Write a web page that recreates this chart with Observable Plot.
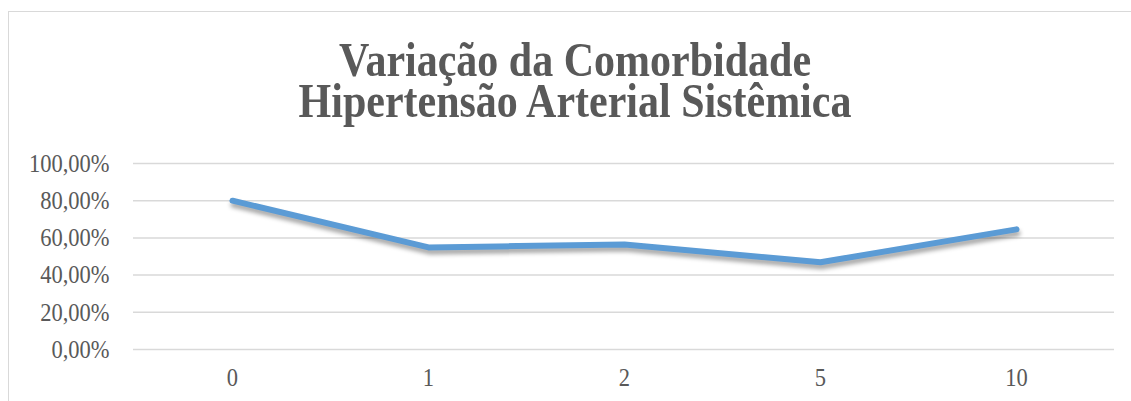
<!DOCTYPE html>
<html>
<head>
<meta charset="utf-8">
<script src="https://cdn.jsdelivr.net/npm/d3@7"></script>
<script src="https://cdn.jsdelivr.net/npm/@observablehq/plot@0.6"></script>
<style>
  html, body { margin: 0; padding: 0; background: #fff; width: 1131px; height: 401px; overflow: hidden; position: relative; }
  #frame { position: absolute; left: 8px; top: 11px; width: 1140px; height: 400px; border: 1.5px solid #d9d9d9; box-sizing: border-box; }
  .title { position: absolute; left: 0; width: 1150px; height: 36px; text-align: center; font-family: "Liberation Serif", "Times New Roman", serif; font-weight: bold; font-size: 42px; line-height: 36px; color: #595959; transform: scaleY(1.16); transform-origin: 0 0; white-space: nowrap; }
  #t1 { top: 38.6px; }
  #t2 { top: 80.4px; }
  #chart { position: absolute; left: 0; top: 120px; }
</style>
</head>
<body>
<div id="frame"></div>
<div class="title" id="t1">Variação da Comorbidade</div>
<div class="title" id="t2">Hipertensão Arterial Sistêmica</div>
<div id="chart"></div>
<script>
const categories = ["0", "1", "2", "5", "10"];
const values = [0.80, 0.549, 0.564, 0.469, 0.646];
const yTicks = [0, 0.2, 0.4, 0.6, 0.8, 1.0];

const data = categories.map((c, i) => ({cat: c, v: values[i]}));
const fmt = d => (d * 100).toFixed(2).replace(".", ",") + "%";

const plot = Plot.plot({
  width: 1131,
  height: 281,
  marginLeft: 133,
  marginRight: 17,
  marginTop: 43,
  marginBottom: 52,
  style: { fontFamily: "'Liberation Serif', 'Times New Roman', serif", fontSize: "22.5px", color: "#595959", background: "transparent", overflow: "visible" },
  x: { type: "point", domain: categories, padding: 0.5, label: null },
  y: { domain: [0, 1], label: null },
  marks: [
    Plot.gridY(yTicks, { stroke: "#d9d9d9", strokeOpacity: 1, strokeWidth: 1.5 }),
    Plot.axisY(yTicks, { tickFormat: fmt, tickSize: 0, tickPadding: 24, fill: "#595959", fontSize: 22.5, label: null }),
    Plot.axisX(categories, { tickSize: 0, tickPadding: 18, fill: "#595959", fontSize: 22.5, label: null }),
    Plot.line(data, { x: "cat", y: "v", stroke: "#5b9bd5", strokeWidth: 6, strokeLinecap: "round", strokeLinejoin: "round" })
  ]
});
d3.select(plot).selectAll("g[aria-label='line']").style("filter", "drop-shadow(1px 4px 2px rgba(0,0,0,0.35))");
// reference text is vertically stretched; emulate it
d3.select(plot).selectAll("g[aria-label$='tick label'] text").each(function () {
  const t = this.getAttribute("transform");
  if (t) {
    this.setAttribute("transform", t + " scale(1,1.16)");
  } else {
    const x = +(this.getAttribute("x") || 0), y = +(this.getAttribute("y") || 0);
    this.removeAttribute("x"); this.removeAttribute("y");
    this.setAttribute("transform", `translate(${x},${y}) scale(1,1.16)`);
  }
});
document.getElementById("chart").appendChild(plot);
</script>
</body>
</html>
